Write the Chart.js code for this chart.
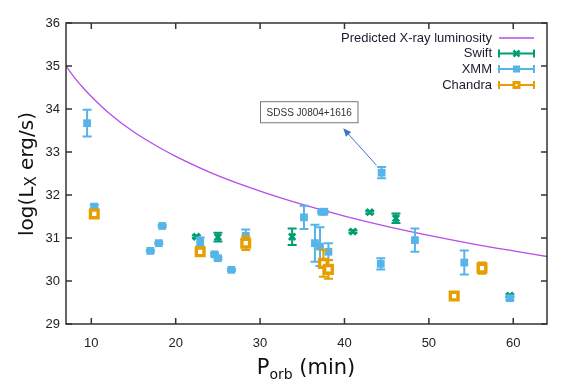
<!DOCTYPE html>
<html>
<head>
<meta charset="utf-8">
<script src="https://cdn.jsdelivr.net/npm/chart.js@4.4.0/dist/chart.umd.min.js"></script>
<style>
  html, body { margin: 0; padding: 0; background: #fff; }
  canvas { display: block; }
</style>
</head>
<body>
<canvas id="myChart" width="581" height="392"></canvas>
<script>
// values (P_orb in minutes, log L_X in erg/s)
const xTicks = [10, 20, 30, 40, 50, 60];
const yTicks = [29, 30, 31, 32, 33, 34, 35, 36];

const curveP = [7, 8, 9, 10, 12, 15, 18, 20, 25, 30, 35, 40, 45, 50, 55, 60, 64];
const curveL = [35.00, 34.73, 34.50, 34.29, 33.92, 33.47, 33.11, 32.90, 32.45, 32.09, 31.78, 31.51, 31.27, 31.06, 30.87, 30.70, 30.57];

const swiftP   = [22.45, 25.0, 33.8, 41.0, 43.0, 46.1, 59.6];
const swiftL   = [31.03, 31.02, 31.03, 31.15, 31.60, 31.46, 29.66];
const swiftErr = [0.03, 0.10, 0.19, 0.03, 0.03, 0.11, 0.03];

const xmmP   = [9.5, 10.35, 17.0, 18.0, 18.4, 22.9, 24.6, 25.0, 26.6, 28.3, 35.2, 36.5, 37.1, 37.3, 37.6, 38.1, 44.4, 44.3, 48.35, 54.2, 59.6];
const xmmL   = [33.67, 31.73, 30.70, 30.88, 31.28, 30.91, 30.62, 30.53, 30.26, 31.05, 31.48, 30.88, 30.80, 31.61, 31.61, 30.68, 32.52, 30.40, 30.95, 30.43, 29.60];
const xmmErr = [0.31, 0.04, 0.02, 0.02, 0.02, 0.10, 0.03, 0.03, 0.02, 0.15, 0.27, 0.43, 0.45, 0.02, 0.02, 0.20, 0.13, 0.13, 0.27, 0.28, 0.04];

const chandraP   = [10.35, 22.9, 28.3, 37.5, 38.1, 53.0, 56.3];
const chandraL   = [31.56, 30.68, 30.88, 30.41, 30.27, 29.65, 30.30];
const chandraErr = [0.08, 0.07, 0.16, 0.31, 0.22, 0.03, 0.13];

const purple = '#b54ee8';
const green = '#009e73';
const blue = '#56b4e9';
const orange = '#e69f00';

function pts(xs, ys) {
  return xs.map((x, i) => ({ x: x, y: ys[i] }));
}

// error bars drawn just before each dataset's markers
const errorBars = {
  id: 'errorBars',
  beforeDatasetDraw(chart, args) {
    const ds = chart.data.datasets[args.index];
    if (!ds.errs) return;
    const ctx = chart.ctx;
    const xs = chart.scales.x, ys = chart.scales.y;
    ctx.save();
    ctx.strokeStyle = ds.borderColor;
    ctx.lineWidth = 2;
    ds.data.forEach((p, i) => {
      const px = xs.getPixelForValue(p.x);
      const top = ys.getPixelForValue(p.y + ds.errs[i]);
      const bot = ys.getPixelForValue(p.y - ds.errs[i]);
      ctx.beginPath();
      ctx.moveTo(px, top); ctx.lineTo(px, bot);
      ctx.moveTo(px - 4.5, top); ctx.lineTo(px + 4.5, top);
      ctx.moveTo(px - 4.5, bot); ctx.lineTo(px + 4.5, bot);
      ctx.stroke();
    });
    ctx.restore();
  }
};

const decorations = {
  id: 'decorations',
  afterDraw(chart) {
    const ctx = chart.ctx;
    const a = chart.chartArea;
    const xs = chart.scales.x, ys = chart.scales.y;
    ctx.save();

    // frame with inward ticks on all sides
    ctx.strokeStyle = '#333';
    ctx.lineWidth = 1.5;
    ctx.strokeRect(a.left, a.top, a.right - a.left, a.bottom - a.top);
    ctx.beginPath();
    xTicks.forEach(v => {
      const px = xs.getPixelForValue(v);
      ctx.moveTo(px, a.bottom); ctx.lineTo(px, a.bottom - 6);
      ctx.moveTo(px, a.top); ctx.lineTo(px, a.top + 6);
    });
    yTicks.forEach(v => {
      const py = ys.getPixelForValue(v);
      ctx.moveTo(a.left, py); ctx.lineTo(a.left + 6, py);
      ctx.moveTo(a.right, py); ctx.lineTo(a.right - 6, py);
    });
    ctx.stroke();

    // annotation box + arrow
    const bx1 = xs.getPixelForValue(30.05), bx2 = xs.getPixelForValue(41.6);
    const by1 = ys.getPixelForValue(34.17), by2 = ys.getPixelForValue(33.68);
    ctx.fillStyle = '#fff';
    ctx.fillRect(bx1, by1, bx2 - bx1, by2 - by1);
    ctx.strokeStyle = '#777';
    ctx.lineWidth = 1;
    ctx.strokeRect(bx1, by1, bx2 - bx1, by2 - by1);
    ctx.fillStyle = '#333';
    ctx.font = '10px "Liberation Sans"';
    ctx.textAlign = 'center';
    ctx.textBaseline = 'middle';
    ctx.fillText('SDSS J0804+1616', (bx1 + bx2) / 2, (by1 + by2) / 2 + 1);

    const tx = xs.getPixelForValue(43.8), ty = ys.getPixelForValue(32.69);
    const hx = xs.getPixelForValue(39.85), hy = ys.getPixelForValue(33.55);
    const ang = Math.atan2(hy - ty, hx - tx);
    ctx.strokeStyle = '#4472c4';
    ctx.fillStyle = '#4472c4';
    ctx.beginPath();
    ctx.moveTo(tx, ty); ctx.lineTo(hx - 6 * Math.cos(ang), hy - 6 * Math.sin(ang));
    ctx.stroke();
    ctx.beginPath();
    ctx.moveTo(hx, hy);
    ctx.lineTo(hx - 8 * Math.cos(ang) + 3.5 * Math.sin(ang), hy - 8 * Math.sin(ang) - 3.5 * Math.cos(ang));
    ctx.lineTo(hx - 8 * Math.cos(ang) - 3.5 * Math.sin(ang), hy - 8 * Math.sin(ang) + 3.5 * Math.cos(ang));
    ctx.closePath();
    ctx.fill();

    // legend
    const rows = [
      { text: 'Predicted X-ray luminosity', y: 38, color: purple, kind: 'line' },
      { text: 'Swift', y: 53.5, color: green, kind: 'swift' },
      { text: 'XMM', y: 69, color: blue, kind: 'xmm' },
      { text: 'Chandra', y: 85, color: orange, kind: 'chandra' }
    ];
    ctx.font = '13px "Liberation Sans"';
    ctx.textAlign = 'right';
    ctx.textBaseline = 'middle';
    rows.forEach(r => {
      ctx.fillStyle = '#1c1c30';
      ctx.fillText(r.text, 492, r.y);
      ctx.strokeStyle = r.color;
      if (r.kind === 'line') {
        ctx.lineWidth = 1.3;
        ctx.beginPath(); ctx.moveTo(499, r.y); ctx.lineTo(534, r.y); ctx.stroke();
        return;
      }
      ctx.lineWidth = 2;
      ctx.beginPath();
      ctx.moveTo(499, r.y); ctx.lineTo(534, r.y);
      ctx.moveTo(499, r.y - 4); ctx.lineTo(499, r.y + 4);
      ctx.moveTo(534, r.y - 4); ctx.lineTo(534, r.y + 4);
      ctx.stroke();
      const m = 516.5;
      if (r.kind === 'swift') {
        ctx.lineWidth = 2.5;
        ctx.beginPath();
        ctx.moveTo(m - 3, r.y - 3); ctx.lineTo(m + 3, r.y + 3);
        ctx.moveTo(m - 3, r.y + 3); ctx.lineTo(m + 3, r.y - 3);
        ctx.stroke();
      } else if (r.kind === 'xmm') {
        ctx.fillStyle = r.color;
        ctx.fillRect(m - 3.5, r.y - 3.5, 7, 7);
      } else {
        ctx.fillStyle = r.color;
        ctx.fillRect(m - 4, r.y - 4, 8, 8);
        ctx.fillStyle = '#fff';
        ctx.fillRect(m - 1, r.y - 1, 2, 2);
      }
    });

    // axis titles
    ctx.fillStyle = '#111';
    ctx.textAlign = 'left';
    ctx.textBaseline = 'alphabetic';
    const big = '21px "DejaVu Sans"', small = '14px "DejaVu Sans"';
    ctx.font = big; const wP = ctx.measureText('P').width;
    const wRest = ctx.measureText(' (min)').width;
    ctx.font = small; const wOrb = ctx.measureText('orb').width;
    let x0 = 306 - (wP + wOrb + wRest) / 2;
    const base = 374;
    ctx.font = big; ctx.fillText('P', x0, base);
    ctx.font = small; ctx.fillText('orb', x0 + wP, base + 5);
    ctx.font = big; ctx.fillText(' (min)', x0 + wP + wOrb, base);

    ctx.translate(33, 174);
    ctx.rotate(-Math.PI / 2);
    const t1 = 'log(L', t2 = 'X', t3 = ' erg/s)';
    const f1 = '20px "DejaVu Sans"', f2 = '15px "DejaVu Sans"';
    ctx.font = f1; const w1 = ctx.measureText(t1).width, w3 = ctx.measureText(t3).width;
    ctx.font = f2; const w2 = ctx.measureText(t2).width;
    let s = -(w1 + w2 + w3) / 2;
    ctx.font = f1; ctx.fillText(t1, s, 0);
    ctx.font = f2; ctx.fillText(t2, s + w1, 3);
    ctx.font = f1; ctx.fillText(t3, s + w1 + w2, 0);

    ctx.restore();
  }
};

const tickFont = { family: 'Liberation Sans', size: 13 };

const chart = new Chart(document.getElementById('myChart'), {
  type: 'scatter',
  data: {
    datasets: [
      {
        label: 'Predicted X-ray luminosity',
        data: pts(curveP, curveL),
        showLine: true,
        pointRadius: 0,
        borderColor: purple,
        borderWidth: 1.3,
        cubicInterpolationMode: 'monotone',
        order: 4
      },
      {
        label: 'Swift',
        data: pts(swiftP, swiftL),
        errs: swiftErr,
        pointStyle: 'crossRot',
        pointRadius: 4.5,
        borderColor: green,
        backgroundColor: green,
        pointBorderWidth: 2.8,
        order: 3
      },
      {
        label: 'XMM',
        data: pts(xmmP, xmmL),
        errs: xmmErr,
        pointStyle: 'rect',
        pointRadius: 5.5,
        borderColor: blue,
        backgroundColor: blue,
        pointBorderWidth: 0,
        order: 2
      },
      {
        label: 'Chandra',
        data: pts(chandraP, chandraL),
        errs: chandraErr,
        pointStyle: 'rect',
        pointRadius: 5.4,
        borderColor: orange,
        backgroundColor: '#fff',
        pointBorderWidth: 3.4,
        order: 1
      }
    ]
  },
  options: {
    responsive: false,
    animation: false,
    layout: { padding: { left: 0, right: 34, top: 23, bottom: 0 } },
    plugins: { legend: { display: false }, tooltip: { enabled: false } },
    scales: {
      x: {
        type: 'linear',
        min: 7,
        max: 64,
        afterBuildTicks: s => { s.ticks = xTicks.map(v => ({ value: v })); },
        afterFit: s => { s.height = 68; },
        grid: { display: false, drawTicks: false },
        border: { display: false },
        ticks: { font: tickFont, color: '#222', padding: 12 }
      },
      y: {
        type: 'linear',
        min: 29,
        max: 36,
        afterBuildTicks: s => { s.ticks = yTicks.map(v => ({ value: v })); },
        afterFit: s => { s.width = 66; },
        grid: { display: false, drawTicks: false },
        border: { display: false },
        ticks: { font: tickFont, color: '#222', padding: 6 }
      }
    }
  },
  plugins: [errorBars, decorations]
});
</script>
</body>
</html>
